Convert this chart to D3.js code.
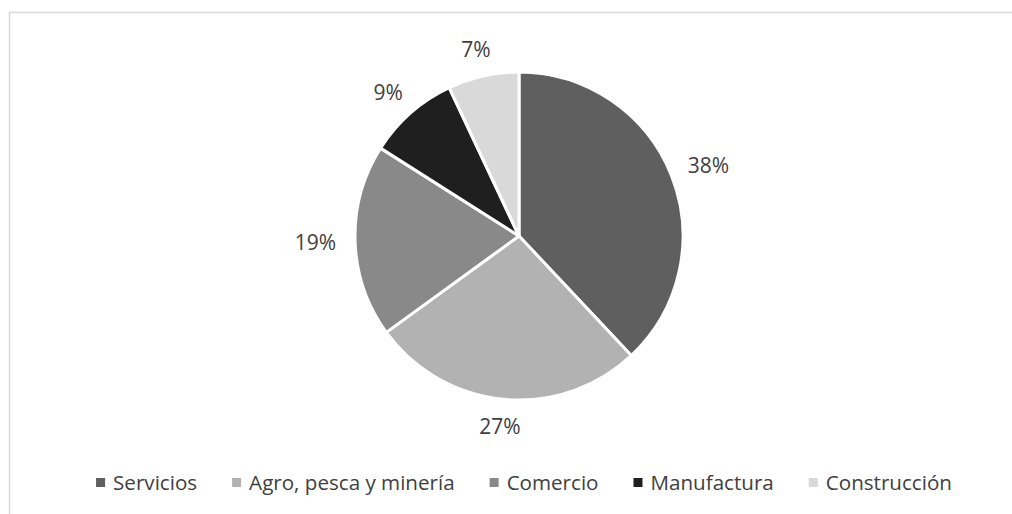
<!DOCTYPE html>
<html>
<head>
<meta charset="utf-8">
<script src="https://cdn.jsdelivr.net/npm/d3@7"></script>
<style>
  html, body { margin: 0; padding: 0; background: #fff; }
  svg { display: block; font-family: "Open Sans", sans-serif; }
</style>
</head>
<body>
<svg id="chart" width="1012" height="514"></svg>
<script>
// Participación por sector (%)
const sectors = ["Servicios", "Agro, pesca y minería", "Comercio", "Manufactura", "Construcción"];
const shares = [38, 27, 19, 9, 7];
const shades = ["#5f5f5f", "#b2b2b2", "#898989", "#1f1f1f", "#d9d9d9"];

const svg = d3.select("#chart");
const W = 1012, H = 514;

// chart frame (runs off the right and bottom edges)
svg.append("rect")
  .attr("x", 9.5).attr("y", 12.5)
  .attr("width", W + 20).attr("height", H + 20)
  .attr("fill", "#fff").attr("stroke", "#d9d9d9").attr("stroke-width", 1.5);

const cx = 519, cy = 236, r = 164;
const data = sectors.map((s, i) => ({ sector: s, value: shares[i] }));

const pie = d3.pie().value(d => d.value).sort(null);
const arcs = pie(data);
const arc = d3.arc().innerRadius(0).outerRadius(r);

const color = d3.scaleOrdinal().domain(sectors).range(shades);

const g = svg.append("g").attr("transform", `translate(${cx},${cy})`);

g.selectAll("path.slice")
  .data(arcs)
  .join("path")
  .attr("class", "slice")
  .attr("d", arc)
  .attr("fill", d => color(d.data.sector))
  .attr("stroke", "#fff")
  .attr("stroke-width", 3)
  .attr("stroke-linejoin", "round");

// outside-end percentage labels
const labelR = r + 19;
const fmt = d => d3.format(".0f")(d.data.value) + "%";
const labels = g.selectAll("text.pct")
  .data(arcs)
  .join("text")
  .attr("class", "pct")
  .attr("font-size", 21)
  .attr("fill", "#404040")
  .attr("text-anchor", "middle")
  .text(fmt);

labels.each(function(d) {
  const bb = this.getBBox();
  const a = (d.startAngle + d.endAngle) / 2;
  const ux = Math.sin(a), uy = -Math.cos(a);
  const hw = bb.width / 2, hh = 8;
  const x = labelR * ux + hw * ux;
  const y = labelR * uy + hh * uy;
  d3.select(this).attr("x", x).attr("y", y + 7.5);
});

// legend
const legend = svg.append("g");
const items = legend.selectAll("g.item")
  .data(sectors)
  .join("g")
  .attr("class", "item");

items.append("rect")
  .attr("width", 9).attr("height", 9)
  .attr("y", 478)
  .attr("fill", d => color(d));

items.append("text")
  .attr("x", 17)
  .attr("y", 490)
  .attr("font-size", 20.6)
  .attr("fill", "#404040")
  .text(d => d);

const gap = 35;
let widths = [];
items.each(function() {
  widths.push(d3.select(this).select("text").node().getComputedTextLength() + 17);
});
const total = d3.sum(widths) + gap * (widths.length - 1);
let x0 = 524 - total / 2;
items.each(function(d, i) {
  d3.select(this).attr("transform", `translate(${x0},0)`);
  x0 += widths[i] + gap;
});
</script>
</body>
</html>
